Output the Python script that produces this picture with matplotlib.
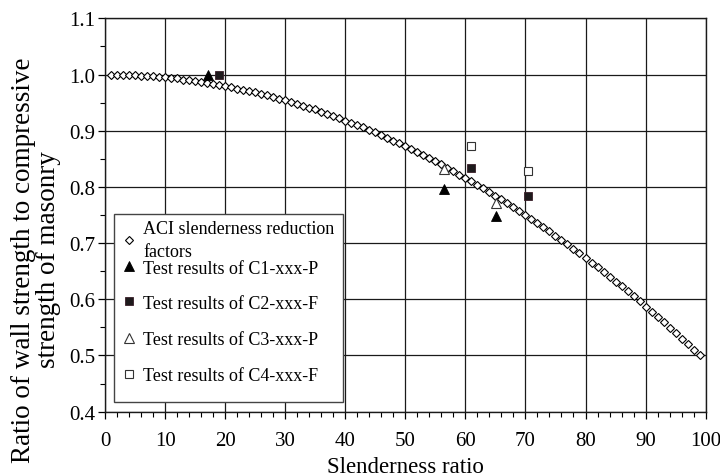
import matplotlib
matplotlib.use("Agg")
import matplotlib.pyplot as plt
from matplotlib.patches import Rectangle
from matplotlib.ticker import MultipleLocator, FormatStrFormatter

plt.rcParams['font.family'] = ['Liberation Serif', 'DejaVu Serif']

aci_x = list(range(1, 100))
aci_y = [1.000, 1.000, 1.000, 0.999, 0.999, 0.998, 0.997, 0.997, 0.996, 0.995,
         0.994, 0.993, 0.991, 0.990, 0.989, 0.987, 0.985, 0.983, 0.982, 0.980,
         0.978, 0.975, 0.973, 0.971, 0.968, 0.966, 0.963, 0.960, 0.957, 0.954,
         0.951, 0.948, 0.944, 0.941, 0.938, 0.934, 0.930, 0.926, 0.922, 0.918,
         0.914, 0.910, 0.906, 0.901, 0.897, 0.892, 0.887, 0.882, 0.878, 0.872,
         0.867, 0.862, 0.857, 0.851, 0.846, 0.840, 0.834, 0.828, 0.822, 0.816,
         0.810, 0.804, 0.798, 0.791, 0.784, 0.778, 0.771, 0.764, 0.757, 0.750,
         0.743, 0.736, 0.728, 0.721, 0.713, 0.705, 0.698, 0.690, 0.682, 0.673,
         0.665, 0.657, 0.649, 0.640, 0.631, 0.623, 0.614, 0.605, 0.596, 0.587,
         0.578, 0.568, 0.559, 0.549, 0.540, 0.530, 0.520, 0.510, 0.500]

# test results
c1_x = [17.1, 56.4, 65.1]
c1_y = [1.000, 0.796, 0.749]
c2_x = [18.9, 61.0, 70.5]
c2_y = [1.000, 0.834, 0.783]
c3_x = [56.4, 65.1]
c3_y = [0.832, 0.772]
c4_x = [61.0, 70.5]
c4_y = [0.873, 0.828]

labels = ["ACI slenderness reduction\nfactors",
          "Test results of C1-xxx-P",
          "Test results of C2-xxx-F",
          "Test results of C3-xxx-P",
          "Test results of C4-xxx-F"]

fig = plt.figure(figsize=(7.2, 4.77), dpi=100)
ax = fig.add_axes([0.146, 0.135, 0.834, 0.8245])

l0, = ax.plot(aci_x, aci_y, ls='none', marker='D', ms=3.8, mfc='white',
              mec='black', mew=0.8, zorder=3)
l1, = ax.plot(c1_x, c1_y, ls='none', marker='^', ms=6.8, mfc='black',
              mec='black', mew=0.6, zorder=4)
l2, = ax.plot(c2_x, c2_y, ls='none', marker='s', ms=6.2, mfc='#1e1a1c',
              mec='#3a1e28', mew=0.6, zorder=4)
l3, = ax.plot(c3_x, c3_y, ls='none', marker='^', ms=6.8, mfc='white',
              mec='#333333', mew=0.8, zorder=4)
l4, = ax.plot(c4_x, c4_y, ls='none', marker='s', ms=6.2, mfc='white',
              mec='#333333', mew=0.8, zorder=4)

ax.set_xlim(0, 100)
ax.set_ylim(0.4, 1.1)
ax.xaxis.set_major_locator(MultipleLocator(10))
ax.xaxis.set_minor_locator(MultipleLocator(2))
ax.yaxis.set_major_locator(MultipleLocator(0.1))
ax.yaxis.set_minor_locator(MultipleLocator(0.05))
ax.yaxis.set_major_formatter(FormatStrFormatter('%.1f'))
ax.grid(True, which='major', color='#1a1a1a', lw=0.9)
ax.set_axisbelow(True)
ax.tick_params(which='major', direction='out', length=5, width=0.9, labelsize=15)
ax.tick_params(axis='x', which='major', pad=9)
ax.tick_params(axis='y', which='major', pad=2)
ax.tick_params(which='minor', direction='out', length=3.5, width=0.8)
for s in ax.spines.values():
    s.set_color('#1a1a1a')
    s.set_linewidth(1.0)

fig.text(0.5625, 0.008, "Slenderness ratio", fontsize=16.5, ha='center', va='baseline')
fig.text(0.05, 0.455, "Ratio of wall strength to compressive\nstrength of masonry",
         fontsize=19.5, rotation=90, ha='center', va='center',
         multialignment='center', linespacing=1.0)

# legend: boxed, first two entries tight, rest spread out (as in the original)
ax.add_patch(Rectangle((0.015, 0.0247), 0.3813, 0.4778, transform=ax.transAxes,
                       facecolor='white', edgecolor='#444444', lw=1.0, zorder=6,
                       clip_on=False))
kw = dict(loc='upper left', frameon=False, fontsize=13, numpoints=1,
          handlelength=1.0, handletextpad=0.25, borderpad=0, borderaxespad=0)
leg1 = ax.legend([l0, l1], labels[:2], bbox_to_anchor=(0.0255, 0.486),
                 labelspacing=0.0, **kw)
for t in leg1.get_texts():
    t.set_linespacing(1.4)
leg1.set_zorder(7)
ax.add_artist(leg1)
leg2 = ax.legend([l2, l3, l4], labels[2:], bbox_to_anchor=(0.0255, 0.297),
                 labelspacing=1.06, **kw)
leg2.set_zorder(7)

fig.savefig('out.png', dpi=100)
